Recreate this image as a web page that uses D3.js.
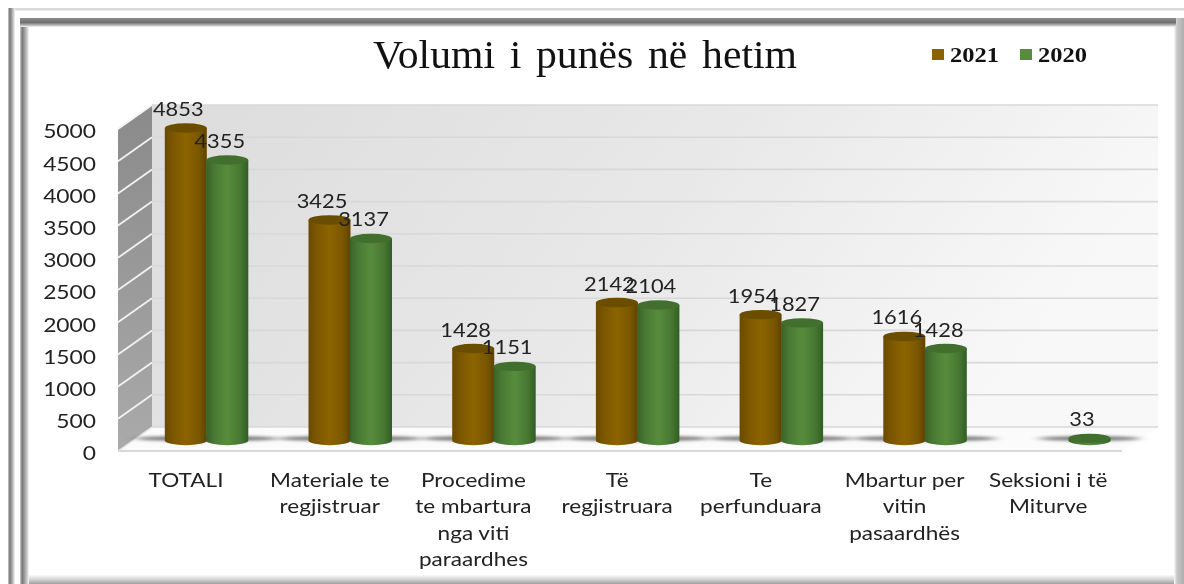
<!DOCTYPE html>
<html>
<head>
<meta charset="utf-8">
<script src="https://cdnjs.cloudflare.com/ajax/libs/d3/7.8.5/d3.min.js"></script>
<style>
  html, body { margin: 0; padding: 0; background: #fff; }
  svg { display: block; filter: blur(0.45px); }
  .cat text, .yaxis text, .val { font-family: Lato, sans-serif; fill: #222; }
</style>
</head>
<body>
<div id="graph"></div>
<script>
const categories = ["TOTALI", "Materiale te regjistruar", "Procedime te mbartura nga viti paraardhes",
                    "Të regjistruara", "Te perfunduara", "Mbartur per vitin pasaardhës", "Seksioni i të Miturve"];
const categoryLines = [["TOTALI"], ["Materiale te", "regjistruar"], ["Procedime", "te mbartura", "nga viti", "paraardhes"],
                       ["Të", "regjistruara"], ["Te", "perfunduara"], ["Mbartur per", "vitin", "pasaardhës"], ["Seksioni i të", "Miturve"]];
const seriesNames = ["2021", "2020"];
const values2021 = [4853, 3425, 1428, 2142, 1954, 1616, null];
const values2020 = [4355, 3137, 1151, 2104, 1827, 1428, 33];
const yTicks = [0, 500, 1000, 1500, 2000, 2500, 3000, 3500, 4000, 4500, 5000];

const w = 1184, h = 584;
const depthX = 34, depthY = 24;   // offset of the back wall
const sx = 1.22;                  // the picture is stretched sideways

const y = d3.scaleLinear().domain([0, 5000]).range([451, 129]);
const x = d3.scaleBand().domain(categories).range([114.2, 1120.1]);
const inner = d3.scaleBand().domain(seriesNames).range([-21, 62]);  // brown, green inside a category
const barX = (i, s) => x(categories[i]) + x.bandwidth() / 2 + inner(s) + inner.bandwidth() / 2;

const svg = d3.select("#graph").append("svg").attr("width", w).attr("height", h);
const defs = svg.append("defs");

function gradient(id, stops, x2, y2) {
  const g = defs.append("linearGradient").attr("id", id)
    .attr("x1", 0).attr("y1", 0).attr("x2", x2).attr("y2", y2);
  stops.forEach(s => g.append("stop").attr("offset", s[0]).attr("stop-color", s[1]));
}
gradient("wall", [[0, "#dcdcdc"], [0.55, "#e8e8e8"], [1, "#f8f8f8"]], 1, 0.25);
gradient("side", [[0, "#8a8a8a"], [1, "#aaaaaa"]], 0, 1);
gradient("brown", [[0, "#6a4a00"], [0.18, "#7a5600"], [0.5, "#8c6400"], [0.82, "#7a5700"], [1, "#5f4300"]], 1, 0);
gradient("green", [[0, "#38632a"], [0.2, "#4a7a33"], [0.5, "#578c3c"], [0.82, "#477632"], [1, "#335c26"]], 1, 0);
gradient("frameL", [[0, "#d0d0d0"], [0.25, "#767676"], [0.7, "#bcbcbc"], [1, "#f8f8f8"]], 1, 0);
gradient("frameT", [[0, "#8c8c8c"], [0.5, "#707070"], [0.8, "#b8b8b8"], [1, "#f8f8f8"]], 0, 1);
gradient("frameR", [[0, "#fafafa"], [0.3, "#c8c8c8"], [1, "#aeaeae"]], 1, 0);
gradient("frameB", [[0, "#fafafa"], [0.5, "#d4d4d4"], [1, "#a0a0a0"]], 0, 1);
defs.append("filter").attr("id", "soft").attr("x", "-20%").attr("y", "-200%").attr("width", "140%").attr("height", "500%")
  .append("feGaussianBlur").attr("stdDeviation", "6 1.4");

// picture frame
svg.append("rect").attr("x", 8).attr("y", 8).attr("width", w).attr("height", 2.5).attr("fill", "#d8d8d8");
svg.append("rect").attr("x", 8).attr("y", 8).attr("width", 7).attr("height", h).attr("fill", "url(#frameL)");
svg.append("rect").attr("x", 29).attr("y", 575).attr("width", 1146).attr("height", 9).attr("fill", "url(#frameB)");
svg.append("rect").attr("x", 20).attr("y", 18).attr("width", 9).attr("height", h).attr("fill", "url(#frameL)");
svg.append("rect").attr("x", 1174).attr("y", 18).attr("width", 10).attr("height", h).attr("fill", "url(#frameR)");
svg.append("rect").attr("x", 20).attr("y", 18).attr("width", 1156).attr("height", 9).attr("fill", "url(#frameT)");

// 3d walls
const left = 118, right = 1122;
svg.append("polygon").attr("fill", "url(#wall)")
  .attr("points", [[left + depthX, y(5000) - depthY], [right + depthX + 2, y(5000) - depthY], [right + depthX + 2, y(0) - depthY], [left + depthX, y(0) - depthY]].join(" "));
svg.append("polygon").attr("fill", "url(#side)")
  .attr("points", [[left, y(5000)], [left + depthX, y(5000) - depthY], [left + depthX, y(0) - depthY], [left, y(0)]].join(" "));
svg.append("polygon").attr("fill", "#fbfbfb")
  .attr("points", [[left, y(0)], [left + depthX, y(0) - depthY], [right + depthX + 2, y(0) - depthY], [right, y(0)]].join(" "));

const grid = svg.append("g").attr("stroke", "#d8d8d8").attr("stroke-width", 1.6);
grid.selectAll("line").data(yTicks).join("line")
  .attr("x1", left + depthX).attr("x2", right + depthX + 2)
  .attr("y1", d => y(d) - depthY).attr("y2", d => y(d) - depthY);
svg.append("g").attr("stroke", "#f2f2f2").attr("stroke-width", 1.8)
  .selectAll("line").data(yTicks.filter(d => d > 0)).join("line")
  .attr("x1", left).attr("x2", left + depthX)
  .attr("y1", d => y(d)).attr("y2", d => y(d) - depthY);
svg.append("line").attr("x1", left).attr("x2", right).attr("y1", y(0)).attr("y2", y(0))
  .attr("stroke", "#d8d8d8").attr("stroke-width", 2);
svg.append("line").attr("x1", left).attr("x2", left + depthX).attr("y1", y(0)).attr("y2", y(0) - depthY)
  .attr("stroke", "#e2e2e2").attr("stroke-width", 1.5);

// axes
const yAxis = svg.append("g").attr("class", "yaxis").attr("transform", "translate(96,2)")
  .call(d3.axisLeft(y).tickValues(yTicks).tickFormat(d3.format("d")).tickSize(0).tickPadding(0));
yAxis.select(".domain").remove();
yAxis.selectAll("text").attr("font-size", 19).attr("x", 0).attr("dy", "0.36em").attr("transform", "scale(1.2,1)");

const xAxis = svg.append("g").attr("class", "cat").attr("transform", "translate(0,487)")
  .call(d3.axisBottom(x).tickSize(0).tickPadding(0));
xAxis.select(".domain").remove();
xAxis.selectAll("text").each(function(d, i) {
  const t = d3.select(this).text(null).attr("y", 0).attr("dy", null)
    .attr("font-size", 18.5).attr("transform", "scale(" + sx + ",1)");
  categoryLines[i].forEach((line, k) => {
    t.append("tspan").attr("x", 0).attr("y", k * 26.5).text(line);
  });
});

// cylinders
const rx = 21, ry = 4.7, lift = 10.5;
const series = [
  { name: seriesNames[0], values: values2021, top: "#6b4d00", fill: "url(#brown)" },
  { name: seriesNames[1], values: values2020, top: "#426f2e", fill: "url(#green)" }
];

series.forEach(s => {
  s.values.forEach((v, i) => {
    if (v === null) return;
    svg.append("ellipse").attr("cx", barX(i, s.name)).attr("cy", y(0) - lift - 2)
      .attr("rx", 50).attr("ry", 2.4).attr("fill", "#4a4a4a").attr("opacity", 0.7).attr("filter", "url(#soft)");
  });
});

series.forEach(s => {
  const g = svg.append("g");
  s.values.forEach((v, i) => {
    if (v === null) return;
    const cx = barX(i, s.name), yt = y(v) - lift, yb = y(0) - lift;
    g.append("path").attr("fill", s.fill)
      .attr("d", `M${cx - rx},${yt}L${cx - rx},${yb}A${rx},${ry} 0 0 0 ${cx + rx},${yb}L${cx + rx},${yt}Z`);
    g.append("ellipse").attr("cx", cx).attr("cy", yt).attr("rx", rx).attr("ry", ry).attr("fill", s.top);
  });
});

// value labels sit over the bars
series.forEach(s => {
  s.values.forEach((v, i) => {
    if (v === null) return;
    svg.append("text").attr("class", "val").attr("text-anchor", "middle")
      .attr("font-size", 19).attr("transform", `translate(${barX(i, s.name) - 7.5},${y(v) - lift - 12}) scale(1.15,1)`)
      .text(v);
  });
});

// title and legend
svg.append("text").attr("x", 373).attr("y", 68).attr("font-family", "Liberation Serif").attr("font-size", 39)
  .attr("word-spacing", 4).attr("fill", "#111").attr("textLength", 424).attr("lengthAdjust", "spacingAndGlyphs")
  .text("Volumi i punës në hetim");

const legendX = d3.scalePoint().domain(seriesNames).range([932, 1020]);
series.forEach(s => {
  svg.append("rect").attr("x", legendX(s.name)).attr("y", 49).attr("width", 12).attr("height", 11)
    .attr("fill", s.name === "2021" ? "#8a6200" : "#578c3c");
  svg.append("text").attr("x", legendX(s.name) + 18).attr("y", 62)
    .attr("font-family", "Liberation Serif").attr("font-weight", "bold").attr("font-size", 20)
    .attr("fill", "#111").attr("textLength", 49).attr("lengthAdjust", "spacingAndGlyphs").text(s.name);
});
</script>
</body>
</html>
